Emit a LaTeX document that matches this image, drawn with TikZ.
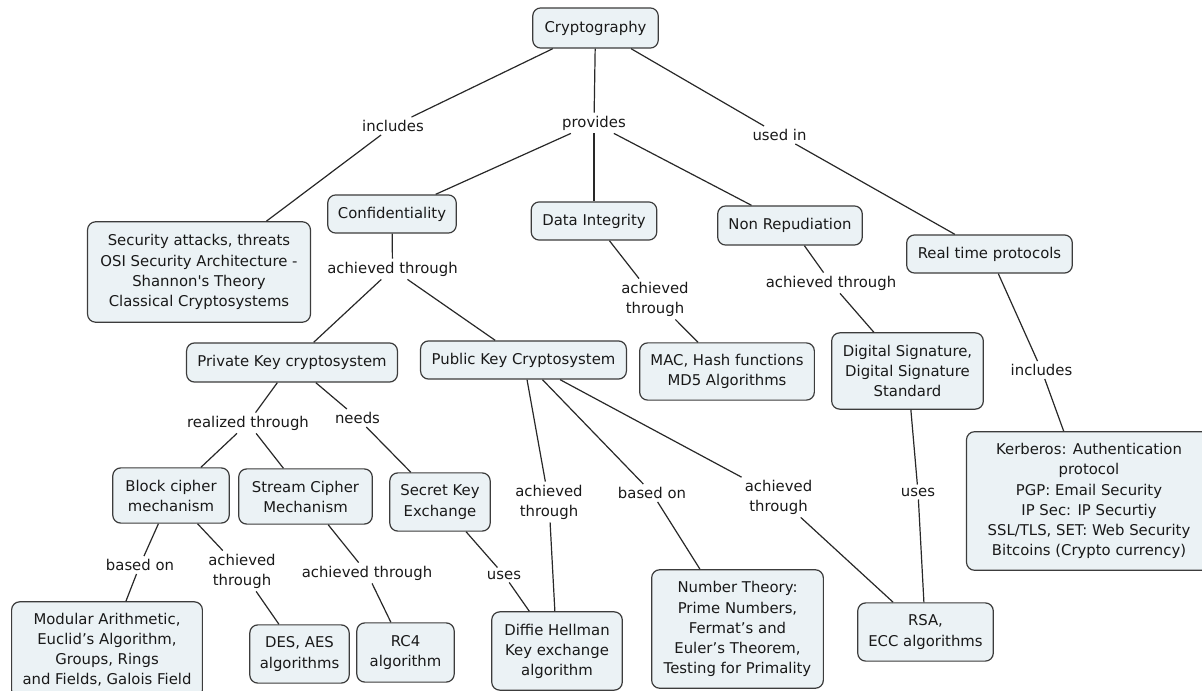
\documentclass[tikz,border=0pt]{standalone}
\usepackage{fontspec}
\setmainfont{DejaVu Sans}
\usepackage{xcolor}
\definecolor{boxfill}{RGB}{235,242,245}
\definecolor{boxline}{RGB}{60,60,60}
\definecolor{linkline}{RGB}{40,40,40}
\definecolor{txt}{RGB}{25,25,25}

\begin{document}
\begin{tikzpicture}[
  x=0.035cm, y=-0.035cm,
  font=\fontsize{14.8}{20}\selectfont,
  concept/.style={
    rectangle, rounded corners=8pt, draw=boxline, line width=1.2pt,
    fill=boxfill, text=txt, align=center, inner sep=2pt
  },
  linktext/.style={text=txt, align=center, inner sep=3pt},
  conn/.style={draw=linkline, line width=1.2pt}
]
\useasboundingbox (0,0) rectangle (1202,691);

% Top concept
\node[concept, minimum width=125pt, minimum height=40pt] (crypto) at (595.5,28) {Cryptography};

% Row 1 -- what it includes / provides / where used
\node[concept, minimum width=222pt, minimum height=100pt] (attacks) at (199,272)
  {Security attacks, threats\\OSI Security Architecture -\\Shannon\textquotesingle s Theory\\Classical Cryptosystems};
\node[concept, minimum width=128pt, minimum height=38pt] (conf)    at (392,214)   {Confidentiality};
\node[concept, minimum width=125pt, minimum height=38pt] (integ)   at (594,221)   {Data Integrity};
\node[concept, minimum width=144pt, minimum height=39pt] (nonrep)  at (790,225.5) {Non Repudiation};
\node[concept, minimum width=165pt, minimum height=38pt] (rtime)   at (989.5,254) {Real time protocols};

% Row 2 -- systems
\node[concept, minimum width=210pt, minimum height=39pt] (private) at (292,362.5) {Private Key cryptosystem};
\node[concept, minimum width=205pt, minimum height=38pt] (public)  at (523.5,360) {Public Key Cryptosystem};
\node[concept, minimum width=174pt, minimum height=57pt] (mac)     at (727,371.5) {MAC, Hash functions\\MD5 Algorithms};
\node[concept, minimum width=151pt, minimum height=76pt] (digsig)  at (907.5,371) {Digital Signature,\\Digital Signature\\Standard};
\node[concept, minimum width=244pt, minimum height=138pt] (kerb)   at (1089,501)
  {Kerberos: Authentication\\protocol\\PGP: Email Security\\IP Sec: IP Securtiy\\SSL/TLS, SET: Web Security\\Bitcoins (Crypto currency)};

% Row 3 -- mechanisms
\node[concept, minimum width=116pt, minimum height=55pt] (block)  at (171,495.5) {Block cipher\\mechanism};
\node[concept, minimum width=133pt, minimum height=55pt] (stream) at (305.5,496.5) {Stream Cipher\\Mechanism};
\node[concept, minimum width=100pt, minimum height=58pt] (secret) at (440,502)   {Secret Key\\Exchange};

% Row 4 -- algorithms and theory
\node[concept, minimum width=190pt, minimum height=96pt] (modular) at (107,650)
  {Modular Arithmetic,\\Euclid’s Algorithm,\\Groups, Rings\\and Fields, Galois Field};
\node[concept, minimum width=99pt, minimum height=58pt]  (des)     at (299.5,654) {DES, AES\\algorithms};
\node[concept, minimum width=97pt, minimum height=59pt]  (rcfour)  at (405.5,652.5) {RC4\\algorithm};
\node[concept, minimum width=130pt, minimum height=78pt] (diffie)  at (557,651)   {Diffie Hellman\\Key exchange\\algorithm};
\node[concept, minimum width=171pt, minimum height=118pt] (numth)  at (737.5,629)
  {Number Theory:\\Prime Numbers,\\Fermat’s and\\Euler’s Theorem,\\Testing for Primality};
\node[concept, minimum width=135pt, minimum height=58pt] (rsa)     at (925.5,632) {RSA,\\ECC algorithms};

% Link phrases
\node[linktext] (lincl)   at (393,126)   {includes};
\node[linktext] (lprov)   at (594,123)   {provides};
\node[linktext] (lused)   at (779.5,135) {used in};
\node[linktext] (lconf)   at (392.5,269) {achieved through};
\node[linktext] (linteg)  at (655,299)   {achieved\\through};
\node[linktext] (lnonrep) at (831,283)   {achieved through};
\node[linktext] (lrtime)  at (1041.5,370) {includes};
\node[linktext] (lreal)   at (248,423)   {realized through};
\node[linktext] (lneeds)  at (357.5,418) {needs};
\node[linktext] (lbased)  at (140,565)   {based on};
\node[linktext] (lblock)  at (242,571)   {achieved\\through};
\node[linktext] (lstream) at (367,573)   {achieved through};
\node[linktext] (luses)   at (504,575)   {uses};
\node[linktext] (lpubdh)  at (549,502)   {achieved\\through};
\node[linktext] (lpubnt)  at (652,493)   {based on};
\node[linktext] (lpubrsa) at (778.5,497) {achieved\\through};
\node[linktext] (lsig)    at (918,492)   {uses};

% Top links
\draw[conn] (crypto) -- (lincl);
\draw[conn] (lincl)  -- (attacks);
\draw[conn] (crypto) -- (lprov);
\draw[conn] (lprov)  -- (conf);
\draw[conn] (lprov)  -- (integ);
\draw[conn] (lprov)  -- (nonrep);
\draw[conn] (crypto) -- (lused);
\draw[conn] (lused)  -- (rtime);

% Row 1 links
\draw[conn] (conf)    -- (lconf);
\draw[conn] (lconf)   -- (private);
\draw[conn] (lconf)   -- (public);
\draw[conn] (integ)   -- (linteg);
\draw[conn] (linteg)  -- (mac);
\draw[conn] (nonrep)  -- (lnonrep);
\draw[conn] (lnonrep) -- (digsig);
\draw[conn] (rtime)   -- (lrtime);
\draw[conn] (lrtime)  -- (kerb);

% Private key links
\draw[conn] (private) -- (lreal);
\draw[conn] (lreal)   -- (block);
\draw[conn] (lreal)   -- (stream);
\draw[conn] (private) -- (lneeds);
\draw[conn] (lneeds)  -- (secret);
\draw[conn] (block)   -- (lbased);
\draw[conn] (lbased)  -- (modular);
\draw[conn] (block)   -- (lblock);
\draw[conn] (lblock)  -- (des);
\draw[conn] (stream)  -- (lstream);
\draw[conn] (lstream) -- (rcfour);
\draw[conn] (secret)  -- (luses);
\draw[conn] (luses)   -- (diffie);

% Public key links
\draw[conn] (public)  -- (lpubdh);
\draw[conn] (lpubdh)  -- (diffie);
\draw[conn] (public)  -- (lpubnt);
\draw[conn] (lpubnt)  -- (numth);
\draw[conn] (public)  -- (lpubrsa);
\draw[conn] (lpubrsa) -- (rsa);
\draw[conn] (digsig)  -- (lsig);
\draw[conn] (lsig)    -- (rsa);

\end{tikzpicture}
\end{document}
